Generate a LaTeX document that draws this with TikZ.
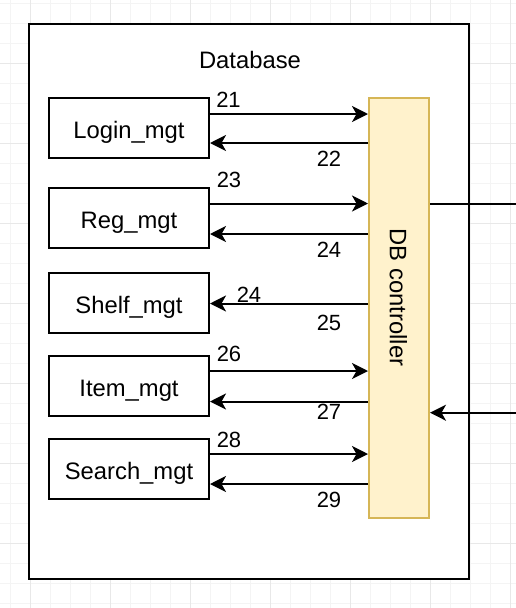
\documentclass[tikz,border=0pt]{standalone}
\usepackage{fontspec}
\setmainfont{Liberation Sans}
\usetikzlibrary{arrows.meta}
\definecolor{gridminor}{HTML}{F4F4F4}
\definecolor{gridmajor}{HTML}{E8E8E8}
\definecolor{ctrlfill}{HTML}{FFF2CC}
\definecolor{ctrldraw}{HTML}{D6B656}
\begin{document}
\begin{tikzpicture}[x=1pt,y=-1pt,
  mgtbox/.style={draw,line width=2pt,fill=white,minimum width=160pt,minimum height=60pt,inner sep=0pt,
    font=\fontsize{23.8}{28}\selectfont,text height=24pt,text depth=3.4pt},
  ctrlbox/.style={draw=ctrldraw,fill=ctrlfill,line width=2pt,minimum width=60pt,minimum height=420pt,inner sep=0pt},
  outerbox/.style={draw,line width=2pt,fill=white,minimum width=440pt,minimum height=555pt,inner sep=0pt},
  bigtext/.style={inner sep=0pt,font=\fontsize{23.8}{28}\selectfont},
  numlabel/.style={inner sep=0pt,font=\fontsize{22}{26}\selectfont},
  conn/.style={line width=2pt},
  arr/.style={conn,-{Stealth[length=16pt,width=16pt,inset=4.5pt]}}]
\useasboundingbox (0,0) rectangle (516,608);
\fill[white] (0,0) rectangle (516,608);
% grid
\foreach \gx in {10,30,...,510} \draw[gridminor,line width=1pt] (\gx,0) -- (\gx,608);
\foreach \gy in {3,23,...,603} \draw[gridminor,line width=1pt] (0,\gy) -- (516,\gy);
\foreach \gx in {30,110,...,510} \draw[gridmajor,line width=1pt] (\gx,0) -- (\gx,608);
\foreach \gy in {63,143,...,603} \draw[gridmajor,line width=1pt] (0,\gy) -- (516,\gy);
% outer database container
\node[outerbox] (db) at (249,301.5) {};
\node[bigtext] (dbtitle) at (250,60) {Database};
% management boxes
\node[mgtbox] (login)  at (129,128) {Login\_mgt};
\node[mgtbox] (reg)    at (129,218) {Reg\_mgt};
\node[mgtbox] (shelf)  at (129,303) {Shelf\_mgt};
\node[mgtbox] (item)   at (129,386) {Item\_mgt};
\node[mgtbox] (search) at (129,469) {Search\_mgt};
% controller
\node[ctrlbox] (ctrl) at (399,308) {};
\node[bigtext,rotate=-90] (ctrltext) at (398.5,297.5) {DB controller};
% connectors
\draw[arr] (login.east |- 0,114) -- (ctrl.west |- 0,114);
\draw[arr] (ctrl.west |- 0,143) -- (login.east |- 0,143);
\draw[arr] (reg.east |- 0,203.5) -- (ctrl.west |- 0,203.5);
\draw[arr] (ctrl.west |- 0,234) -- (reg.east |- 0,234);
\draw[arr] (ctrl.west |- 0,303.5) -- (shelf.east |- 0,303.5);
\draw[arr] (item.east |- 0,371) -- (ctrl.west |- 0,371);
\draw[arr] (ctrl.west |- 0,401.5) -- (item.east |- 0,401.5);
\draw[arr] (search.east |- 0,454) -- (ctrl.west |- 0,454);
\draw[arr] (ctrl.west |- 0,484) -- (search.east |- 0,484);
% external connections
\coordinate (outR) at (516,203.5);
\coordinate (inR) at (516,412.7);
\draw[conn] (ctrl.east |- outR) -- (outR);
\draw[arr] (inR) -- (ctrl.east |- inR);
% labels
\node[numlabel] (l21) at (228.5,99.5) {21};
\node[numlabel] (l22) at (329,159) {22};
\node[numlabel] (l23) at (229,180) {23};
\node[numlabel] (l24a) at (329,249.5) {24};
\node[numlabel] (l24b) at (249,294.5) {24};
\node[numlabel] (l25) at (329,323) {25};
\node[numlabel] (l26) at (229,353.7) {26};
\node[numlabel] (l27) at (329,411.7) {27};
\node[numlabel] (l28) at (229,440) {28};
\node[numlabel] (l29) at (329,500) {29};
\end{tikzpicture}
\end{document}
